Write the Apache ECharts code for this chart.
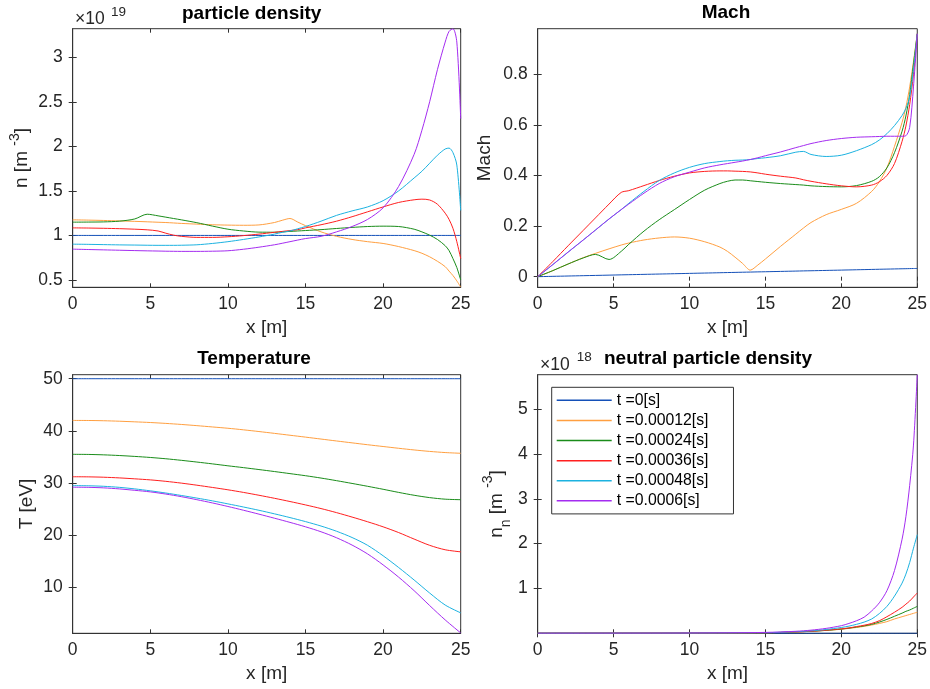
<!DOCTYPE html>
<html><head><meta charset="utf-8">
<script src="https://cdn.jsdelivr.net/npm/echarts@6/dist/echarts.min.js"></script>
<style>html,body{margin:0;padding:0;background:#fff}#c{width:930px;height:689px}</style>
</head><body><div id="c"></div>
<script>
const seriesNames = ['t =0[s]','t =0.00012[s]','t =0.00024[s]','t =0.00036[s]','t =0.00048[s]','t =0.0006[s]'];
const xTicks = [0,5,10,15,20,25];
const nTicks = [0.5,1,1.5,2,2.5,3];
const machTicks = [0,0.2,0.4,0.6,0.8];
const tempTicks = [10,20,30,40,50];
const nnTicks = [1,2,3,4,5];

// particle density (x1e19)
const xN = [0,1,2,3,4,4.8,5.5,6,6.5,7,8,9,10,11,12,13,13.5,14,14.5,15,16,17,18,19,20,21,22,22.5,23,23.5,24,24.25,24.5,24.75,25];
const nT0 = [1,1,1,1,1,1,1,1,1,1,1,1,1,1,1,1,1,1,1,1,1,1,1,1,1,1,1,1,1,1,1,1,1,1,1];
const nT1 = [1.175,1.172,1.168,1.163,1.158,1.153,1.148,1.145,1.14,1.135,1.127,1.12,1.116,1.114,1.118,1.145,1.17,1.19,1.15,1.11,1.04,0.99,0.955,0.93,0.91,0.875,0.83,0.8,0.76,0.71,0.65,0.6,0.55,0.49,0.42];
const nT2 = [1.149,1.15,1.152,1.16,1.185,1.238,1.22,1.205,1.19,1.175,1.143,1.105,1.07,1.05,1.037,1.036,1.04,1.045,1.05,1.055,1.065,1.078,1.09,1.1,1.104,1.1,1.07,1.04,1.003,0.955,0.885,0.83,0.74,0.64,0.5];
const nT3 = [1.085,1.083,1.08,1.076,1.07,1.063,1.05,1.025,1.003,0.99,0.978,0.978,0.985,0.998,1.015,1.035,1.045,1.055,1.065,1.085,1.12,1.16,1.21,1.265,1.32,1.37,1.4,1.407,1.398,1.35,1.25,1.18,1.08,0.93,0.74];
const nT4 = [0.902,0.9,0.897,0.894,0.892,0.89,0.889,0.889,0.889,0.89,0.895,0.91,0.93,0.955,0.983,1.015,1.035,1.05,1.075,1.1,1.16,1.225,1.275,1.32,1.39,1.5,1.645,1.72,1.81,1.9,1.97,1.98,1.93,1.79,1.28];
const nT5 = [0.846,0.842,0.838,0.834,0.83,0.827,0.825,0.823,0.822,0.821,0.821,0.823,0.828,0.845,0.868,0.895,0.912,0.93,0.948,0.965,0.99,1.04,1.1,1.18,1.31,1.55,1.91,2.18,2.5,2.86,3.17,3.29,3.32,3.17,2.31];

// Mach
const xM = [0,1,2,3,3.8,4.7,5.5,6,7,8,9,10,11,12,12.5,13,13.5,14,14.5,15,16,17,17.5,18,19,20,21,22,22.5,23,23.5,24,24.25,24.5,24.75,25];
const mT0 = [0,0.0013,0.0026,0.0039,0.0049,0.0061,0.0072,0.0078,0.0091,0.0104,0.0117,0.013,0.0143,0.0156,0.0163,0.0169,0.0176,0.0182,0.0189,0.0195,0.0208,0.0221,0.0228,0.0234,0.0247,0.026,0.0273,0.0286,0.0293,0.0299,0.0306,0.0312,0.0315,0.0319,0.0322,0.0325];
const mT1 = [0,0.024,0.05,0.075,0.092,0.11,0.125,0.133,0.145,0.153,0.157,0.152,0.138,0.117,0.1,0.077,0.052,0.026,0.046,0.07,0.12,0.168,0.192,0.214,0.245,0.266,0.29,0.337,0.375,0.43,0.515,0.61,0.67,0.75,0.85,0.96];
const mT2 = [0,0.024,0.05,0.074,0.088,0.068,0.1,0.128,0.18,0.225,0.265,0.305,0.342,0.368,0.377,0.382,0.382,0.379,0.376,0.373,0.368,0.364,0.362,0.359,0.356,0.355,0.36,0.377,0.395,0.43,0.49,0.575,0.635,0.72,0.84,0.96];
const mT3 = [0,0.06,0.122,0.183,0.232,0.287,0.333,0.34,0.36,0.38,0.397,0.41,0.416,0.418,0.418,0.417,0.416,0.414,0.41,0.405,0.397,0.39,0.383,0.377,0.367,0.359,0.355,0.362,0.375,0.4,0.447,0.535,0.595,0.68,0.8,0.96];
const mT4 = [0,0.048,0.097,0.145,0.184,0.228,0.265,0.29,0.337,0.38,0.41,0.432,0.447,0.455,0.458,0.46,0.461,0.463,0.467,0.47,0.478,0.492,0.495,0.483,0.475,0.48,0.498,0.522,0.54,0.565,0.597,0.637,0.665,0.71,0.82,0.96];
const mT5 = [0,0.048,0.097,0.145,0.184,0.228,0.265,0.287,0.33,0.368,0.395,0.413,0.43,0.442,0.447,0.452,0.457,0.463,0.47,0.478,0.493,0.51,0.518,0.526,0.538,0.546,0.551,0.553,0.554,0.555,0.555,0.555,0.557,0.59,0.75,0.96];

// Temperature
const xT = [0,1,2,3,4,5,6,7,8,9,10,11,12,13,14,15,16,17,18,19,20,21,22,23,24,25];
const tT0 = [50,50,50,50,50,50,50,50,50,50,50,50,50,50,50,50,50,50,50,50,50,50,50,50,50,50];
const tT1 = [42.0,41.99,41.94,41.85,41.73,41.6,41.43,41.23,41.0,40.75,40.5,40.2,39.87,39.52,39.16,38.8,38.43,38.06,37.7,37.34,37.0,36.66,36.34,36.06,35.84,35.7];
const tT2 = [35.5,35.48,35.4,35.27,35.1,34.9,34.65,34.35,34.02,33.67,33.3,32.95,32.58,32.2,31.8,31.4,30.95,30.45,29.92,29.37,28.8,28.2,27.65,27.2,26.9,26.8];
const tT3 = [31.2,31.18,31.11,30.98,30.8,30.6,30.32,29.98,29.58,29.15,28.7,28.2,27.65,27.07,26.45,25.8,25.1,24.32,23.47,22.57,21.6,20.5,19.25,18.05,17.2,16.8];
const tT4 = [29.5,29.47,29.37,29.17,28.87,28.5,28.08,27.61,27.11,26.58,26.0,25.4,24.77,24.09,23.37,22.6,21.75,20.75,19.55,18.05,16.05,13.8,11.4,8.9,6.6,5.1];
const tT5 = [29.2,29.17,29.07,28.87,28.6,28.3,27.88,27.38,26.8,26.18,25.5,24.78,24.03,23.25,22.45,21.6,20.65,19.5,18.1,16.4,14.3,11.95,9.35,6.5,3.75,1.25];

// neutral particle density (x1e18)
const xNn = [0,5,10,15,17,18,19,20,20.5,21,21.5,22,22.5,23,23.5,24,24.25,24.5,24.75,25];
const nnT0 = [0,0,0,0,0,0,0,0,0,0,0,0,0,0,0,0,0,0,0,0];
const nnT1 = [0.002,0.003,0.005,0.012,0.03,0.045,0.065,0.09,0.11,0.13,0.155,0.185,0.22,0.26,0.32,0.37,0.395,0.42,0.445,0.47];
const nnT2 = [0.002,0.003,0.005,0.012,0.03,0.045,0.065,0.095,0.115,0.14,0.165,0.2,0.25,0.31,0.38,0.45,0.49,0.52,0.56,0.6];
const nnT3 = [0.002,0.003,0.005,0.012,0.03,0.045,0.07,0.1,0.12,0.15,0.18,0.22,0.28,0.37,0.47,0.58,0.65,0.72,0.81,0.9];
const nnT4 = [0.002,0.003,0.005,0.015,0.035,0.055,0.085,0.13,0.16,0.2,0.25,0.32,0.44,0.6,0.83,1.12,1.32,1.58,1.9,2.2];
const nnT5 = [0.002,0.003,0.006,0.02,0.045,0.07,0.11,0.17,0.22,0.28,0.36,0.5,0.68,0.95,1.4,2.1,2.6,3.3,4.2,5.77];

const COLORS = ['#1450b8','#ff9f40','#1a8c1a','#ff1f1f','#1cb2e0','#a42cf0'];
const FONT = 'Liberation Sans';
const AX = '#333333';

const panels = [
  {x: xN, ys: [nT0,nT1,nT2,nT3,nT4,nT5], grid: {left: 72.7, top: 28.7, width: 388, height: 258.6}, ymin: 0.418, ymax: 3.32, yticks: nTicks,
   yname: '{a|n [m }{s|-3}{a|]}', ygap: 37, rich: true},
  {x: xM, ys: [mT0,mT1,mT2,mT3,mT4,mT5], grid: {left: 537.7, top: 28.7, width: 386.6, height: 258.6}, ymin: -0.042, ymax: 0.98, yticks: machTicks,
   yname: 'Mach', ygap: 43},
  {x: xT, ys: [tT0,tT1,tT2,tT3,tT4,tT5], grid: {left: 72.7, top: 374.7, width: 388, height: 258.6}, ymin: 1.18, ymax: 50.77, yticks: tempTicks,
   yname: 'T [eV]', ygap: 36},
  {x: xNn, ys: [nnT0,nnT1,nnT2,nnT3,nnT4,nnT5], grid: {left: 537.7, top: 374.7, width: 386.6, height: 258.6}, ymin: 0, ymax: 5.77, yticks: nnTicks,
   yname: '{a|n}{b|n}{a| [m }{c|-3}{a|]}', ygap: 25, rich: true}
];

const grids = [], xAxes = [], yAxes = [], series = [];
panels.forEach((p, i) => {
  grids.push(Object.assign({show: true, borderColor: AX, borderWidth: 1, backgroundColor: 'transparent'}, p.grid));
  const tickStyle = {show: true, inside: true, length: 4, lineStyle: {color: AX, width: 1}};
  xAxes.push({gridIndex: i, type: 'value', min: 0, max: 25, position: 'bottom',
    name: 'x [m]', nameLocation: 'middle', nameGap: 31,
    nameTextStyle: {fontFamily: FONT, fontSize: 19, color: '#262626'},
    axisLine: {show: true, onZero: false, lineStyle: {color: AX, width: 1}},
    axisTick: Object.assign({customValues: xTicks}, tickStyle),
    axisLabel: {customValues: xTicks, fontFamily: FONT, fontSize: 17.5, color: '#262626', margin: 8},
    splitLine: {show: false}});
  xAxes.push({gridIndex: i, type: 'value', min: 0, max: 25, position: 'top',
    axisLine: {show: false}, axisTick: Object.assign({customValues: xTicks}, tickStyle),
    axisLabel: {show: false}, splitLine: {show: false}});
  const nameStyle = p.rich ? {fontFamily: FONT, fontSize: 19, color: '#262626',
      rich: p.yname.indexOf('{b|') >= 0 ? {
        a: {fontFamily: FONT, fontSize: 19, color: '#262626', lineHeight: 32, verticalAlign: 'middle'},
        b: {fontFamily: FONT, fontSize: 14, color: '#262626', lineHeight: 15, verticalAlign: 'bottom'},
        c: {fontFamily: FONT, fontSize: 14, color: '#262626', lineHeight: 9, verticalAlign: 'top'}
      } : {
        a: {fontFamily: FONT, fontSize: 19, color: '#262626', lineHeight: 28, verticalAlign: 'middle'},
        s: {fontFamily: FONT, fontSize: 14, color: '#262626', lineHeight: 12, verticalAlign: 'top'}
      }}
    : {fontFamily: FONT, fontSize: 19, color: '#262626', lineHeight: 20};
  yAxes.push({gridIndex: i, type: 'value', min: p.ymin, max: p.ymax, position: 'left',
    name: p.yname, nameLocation: 'middle', nameRotate: 90, nameGap: p.ygap, nameTextStyle: nameStyle,
    axisLine: {show: true, onZero: false, lineStyle: {color: AX, width: 1}},
    axisTick: Object.assign({customValues: p.yticks}, tickStyle),
    axisLabel: {customValues: p.yticks, fontFamily: FONT, fontSize: 17.5, color: '#262626', margin: 10},
    splitLine: {show: false}});
  yAxes.push({gridIndex: i, type: 'value', min: p.ymin, max: p.ymax, position: 'right',
    axisLine: {show: false}, axisTick: Object.assign({customValues: p.yticks}, tickStyle),
    axisLabel: {show: false}, splitLine: {show: false}});
  p.ys.forEach((vals, k) => {
    series.push({type: 'line', name: seriesNames[k], xAxisIndex: 2 * i, yAxisIndex: 2 * i,
      data: p.x.map((xv, j) => [xv, vals[j]]), showSymbol: false, symbol: 'none', smooth: 0.3,
      color: COLORS[k], lineStyle: {color: COLORS[k], width: 1}, itemStyle: {color: COLORS[k]},
      animation: false, z: 2 + k});
  });
});

function txt(x, y, text, size, bold, align) {
  return {type: 'text', x: x, y: y, z: 100, style: {text: text, fontFamily: FONT, fontSize: size,
    fontWeight: bold ? 'bold' : 'normal', fill: bold ? '#000' : '#262626', align: align || 'center', verticalAlign: 'middle'}};
}

const chart = echarts.init(document.getElementById('c'), null, {renderer: 'canvas'});
chart.setOption({
  backgroundColor: '#fff',
  animation: false,
  grid: grids, xAxis: xAxes, yAxis: yAxes, series: series,
  legend: {data: seriesNames, orient: 'vertical', left: 551.7, top: 387.3, icon: 'rect', itemWidth: 55, itemHeight: 1.5,
    itemGap: 0, padding: [3, 25, 3, 5], backgroundColor: '#fff', borderColor: AX, borderWidth: 1, borderRadius: 0,
    selectedMode: false,
    textStyle: {fontFamily: FONT, fontSize: 15.8, color: '#000', lineHeight: 20.1}},
  graphic: [
    txt(251.7, 13.3, 'particle density', 19, true),
    txt(726, 12.7, 'Mach', 19, true),
    txt(254, 358.3, 'Temperature', 19, true),
    txt(708, 359, 'neutral particle density', 19, true),
    txt(75, 19.5, '\u00d710', 17.5, false, 'left'),
    txt(111, 12, '19', 13.5, false, 'left'),
    txt(540, 365.3, '\u00d710', 17.5, false, 'left'),
    txt(576.7, 357.3, '18', 13.5, false, 'left')
  ]
});
</script></body></html>
